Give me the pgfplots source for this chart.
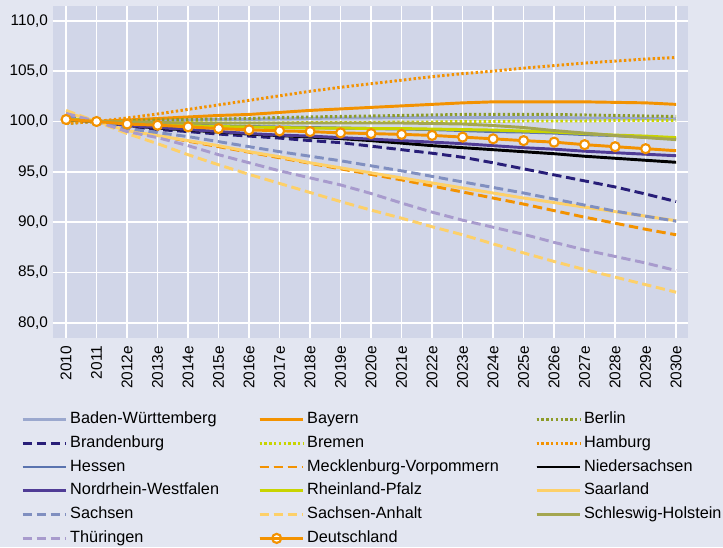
\documentclass[border=0pt]{standalone}
\usepackage{pgfplots}
\pgfplotsset{compat=1.18}
\usepackage{pgfplotstable}
\usepackage{fontspec}
\setmainfont{Liberation Sans}
\definecolor{outerbg}{RGB}{227,230,241}
\definecolor{plotbg}{RGB}{209,214,232}
\definecolor{cbw}{RGB}{155,168,206}
\definecolor{corange}{RGB}{243,146,0}
\definecolor{colive}{RGB}{140,155,40}
\definecolor{cnavy}{RGB}{40,30,120}
\definecolor{cyg}{RGB}{200,212,0}
\definecolor{chessen}{RGB}{90,115,175}
\definecolor{cnrw}{RGB}{80,60,150}
\definecolor{clight}{RGB}{253,208,105}
\definecolor{csachsen}{RGB}{128,143,192}
\definecolor{csh}{RGB}{164,166,80}
\definecolor{cthu}{RGB}{168,155,205}
\pgfplotstableread{
x bw by be bb hb hh he mv ni nw rp sl sn st sh th de
0 100.3 100.1 99.8 100.4 100.0 99.8 100.2 100.7 100.2 100.3 100.3 100.9 100.6 101.1 100.2 100.8 100.2
1 100.0 100.0 100.0 100.0 100.0 100.0 100.0 100.0 100.0 100.0 100.0 100.0 100.0 100.0 100.0 100.0 100.0
2 100.05 100.15 100.1 99.5 99.95 100.35 99.85 99.1 99.6 99.6 99.8 99.1 99.3 98.8 99.95 99.0 99.75
3 100.1 100.3 100.15 99.2 99.9 100.75 99.75 98.6 99.35 99.4 99.7 98.6 98.9 97.8 99.9 98.4 99.63
4 100.15 100.45 100.2 99.0 99.9 101.2 99.65 98.05 99.15 99.2 99.6 98.1 98.5 96.7 99.85 97.6 99.47
5 100.2 100.6 100.25 98.75 99.85 101.65 99.55 97.5 98.95 99.0 99.5 97.6 98.0 95.7 99.85 96.7 99.3
6 100.2 100.7 100.3 98.55 99.85 102.1 99.5 96.95 98.75 98.8 99.45 97.0 97.5 94.75 99.85 95.9 99.17
7 100.25 100.9 100.4 98.35 99.85 102.55 99.45 96.4 98.6 98.65 99.4 96.5 97.0 93.85 99.85 95.1 99.07
8 100.3 101.1 100.45 98.1 99.9 103.0 99.4 95.85 98.45 98.55 99.35 95.9 96.55 92.95 99.85 94.4 99.0
9 100.35 101.25 100.5 97.9 99.9 103.4 99.35 95.3 98.3 98.4 99.35 95.4 96.1 92.05 99.85 93.7 98.87
10 100.35 101.4 100.55 97.55 99.9 103.75 99.3 94.75 98.1 98.25 99.3 94.9 95.6 91.2 99.85 92.85 98.8
11 100.4 101.55 100.6 97.2 99.95 104.1 99.25 94.2 97.85 98.1 99.3 94.4 95.1 90.4 99.85 91.9 98.72
12 100.4 101.7 100.65 96.85 99.95 104.45 99.2 93.6 97.6 97.95 99.25 93.9 94.55 89.55 99.8 91.0 98.62
13 100.4 101.85 100.7 96.45 100.0 104.75 99.1 93.0 97.4 97.8 99.2 93.4 94.0 88.75 99.75 90.2 98.45
14 100.4 101.95 100.7 95.9 100.0 105.0 99.0 92.4 97.2 97.6 99.15 92.9 93.45 87.85 99.6 89.5 98.28
15 100.4 101.95 100.7 95.3 100.05 105.3 98.95 91.8 97.0 97.4 99.05 92.4 92.9 86.95 99.4 88.8 98.1
16 100.4 101.95 100.7 94.7 100.05 105.55 98.85 91.15 96.8 97.25 98.95 91.95 92.3 86.1 99.1 88.0 97.95
17 100.35 101.95 100.65 94.1 100.05 105.8 98.7 90.5 96.55 97.05 98.8 91.5 91.7 85.3 98.85 87.25 97.7
18 100.35 101.9 100.6 93.5 100.1 106.0 98.6 89.9 96.35 96.9 98.65 91.05 91.1 84.55 98.6 86.6 97.5
19 100.3 101.85 100.55 92.8 100.1 106.2 98.45 89.3 96.15 96.75 98.55 90.6 90.6 83.8 98.4 85.95 97.3
20 100.25 101.7 100.5 92.05 100.1 106.35 98.3 88.75 95.95 96.6 98.4 90.15 90.1 83.05 98.2 85.2 97.1
}\data
\pgfplotsset{
  dashst/.style={dash pattern=on 7pt off 3.5pt},
  dotst/.style={dash pattern=on 1.8pt off 1.8pt},
}
\begin{document}
\begin{tikzpicture}
\path[use as bounding box, fill=outerbg] (0,0) rectangle (542.25pt,410.25pt);
\begin{axis}[
  at={(39.5pt,157.1pt)}, anchor=south west,
  scale only axis, width=476.5pt, height=248.9pt,
  xmin=-0.44, xmax=20.39, ymin=78.55, ymax=111.5,
  axis background/.style={fill=plotbg},
  axis line style={draw=none},
  grid=major, grid style={white, line width=1.1pt},
  major tick length=0pt,
  /pgf/number format/assume math mode=true,
  xtick={0,...,20},
  xticklabels={2010,2011,2012e,2013e,2014e,2015e,2016e,2017e,2018e,2019e,2020e,2021e,2022e,2023e,2024e,2025e,2026e,2027e,2028e,2029e,2030e},
  x tick label style={rotate=90, anchor=east, inner xsep=6pt, font=\fontsize{11.6}{13}\selectfont},
  ytick={80,85,...,110},
  y tick label style={/pgf/number format/fixed, /pgf/number format/fixed zerofill, /pgf/number format/precision=1, /pgf/number format/use comma, font=\fontsize{11.5}{13}\selectfont},
  every axis plot/.append style={line width=2.2pt},
  legend columns=3, legend cell align=left,
  legend image code/.code={
    \draw[mark repeat=2,mark phase=2,#1] plot coordinates {(0pt,0pt) (12.75pt,0pt) (25.5pt,0pt)};
    \path (0pt,0pt) -- (32.5pt,0pt);
  },
  legend style={at={(-0.0498,-0.2133)}, anchor=north west, draw=none, fill=none,
    inner sep=0pt, row sep=1.65pt,
    font=\fontsize{12.2}{14}\selectfont,
    nodes={inner sep=2pt, text height=9.2pt, text depth=3pt},
    /tikz/column 2/.style={text width=139pt},
    /tikz/column 4/.style={text width=169pt}},
]
\addplot[cbw, no marks] table[x=x,y=bw]{\data};
\addlegendentry{Baden-Württemberg}
\addplot[corange, no marks] table[x=x,y=by]{\data};
\addlegendentry{Bayern}
\addplot[colive, dotst, no marks] table[x=x,y=be]{\data};
\addlegendentry{Berlin}
\addplot[cnavy, dashst, no marks] table[x=x,y=bb]{\data};
\addlegendentry{Brandenburg}
\addplot[cyg, dotst, no marks] table[x=x,y=hb]{\data};
\addlegendentry{Bremen}
\addplot[corange, dotst, no marks] table[x=x,y=hh]{\data};
\addlegendentry{Hamburg}
\addplot[chessen, no marks] table[x=x,y=he]{\data};
\addlegendentry{Hessen}
\addplot[corange, dashst, no marks] table[x=x,y=mv]{\data};
\addlegendentry{Mecklenburg-Vorpommern}
\addplot[black, no marks] table[x=x,y=ni]{\data};
\addlegendentry{Niedersachsen}
\addplot[cnrw, no marks] table[x=x,y=nw]{\data};
\addlegendentry{Nordrhein-Westfalen}
\addplot[cyg, no marks] table[x=x,y=rp]{\data};
\addlegendentry{Rheinland-Pfalz}
\addplot[clight, no marks] table[x=x,y=sl]{\data};
\addlegendentry{Saarland}
\addplot[csachsen, dashst, no marks] table[x=x,y=sn]{\data};
\addlegendentry{Sachsen}
\addplot[clight, dashst, no marks] table[x=x,y=st]{\data};
\addlegendentry{Sachsen-Anhalt}
\addplot[csh, no marks] table[x=x,y=sh]{\data};
\addlegendentry{Schleswig-Holstein}
\addplot[cthu, dashst, no marks] table[x=x,y=th]{\data};
\addlegendentry{Thüringen}
\addplot[corange, forget plot, mark=*, mark size=3.4pt, mark indices={1,2,3,4,5,6,7,8,9,10,11,12,13,14,15,16,17,18,19,20},
  mark options={fill=white, draw=corange, line width=1.6pt, solid}] table[x=x,y=de]{\data};
\addlegendimage{corange, line width=2.2pt, mark=*, mark size=3.4pt, mark options={fill=white, draw=corange, line width=1.6pt, solid}}
\addlegendentry{Deutschland}
\end{axis}
\end{tikzpicture}
\end{document}
